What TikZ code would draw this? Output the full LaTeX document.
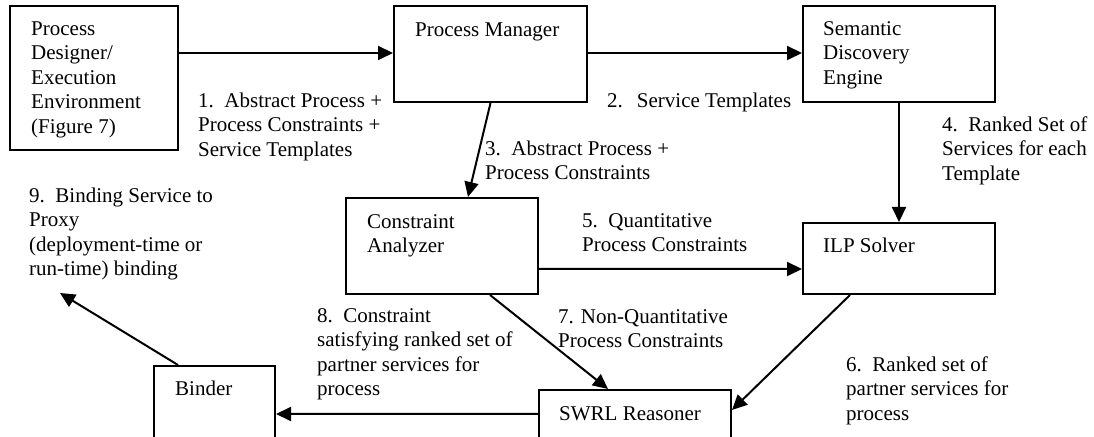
\documentclass[tikz,border=0pt]{standalone}
\usepackage{fontspec}
\setmainfont{Liberation Serif}
\usetikzlibrary{arrows.meta}
\begin{document}
\begin{tikzpicture}[x=1bp,y=-1bp,
  box/.style={draw,line width=2bp,inner sep=0pt,anchor=north west},
  conn/.style={line width=2bp,-{Triangle[length=15bp,width=14bp]}},
  lbl/.style={anchor=north west,inner sep=0pt,align=left,yshift=17.15bp,font=\fontsize{21bp}{24.5bp}\selectfont}]
\useasboundingbox (0,0) rectangle (1094,437);
\clip (0,0) rectangle (1094,437);
% boxes
\node[box,minimum width=168bp,minimum height=144bp] (pd) at (9,5) {};
\node[box,minimum width=193bp,minimum height=96bp] (pm) at (393,5) {};
\node[box,minimum width=192bp,minimum height=96bp] (sde) at (802,5) {};
\node[box,minimum width=192bp,minimum height=96bp] (ca) at (345,197) {};
\node[box,minimum width=192bp,minimum height=71bp] (ilp) at (802,222) {};
\node[box,minimum width=121bp,minimum height=95bp] (bnd) at (153,365) {};
\node[box,minimum width=192bp,minimum height=71bp] (swrl) at (538,389) {};
% box texts
\node[lbl] (pdt) at (31,35) {\strut Process\\Designer/\\Execution\\Environment\\(Figure 7)};
\node[lbl] (pmt) at (415,36) {\strut Process Manager};
\node[lbl] (sdet) at (823,35) {\strut Semantic\\Discovery\\Engine};
\node[lbl] (cat) at (367,228) {\strut Constraint\\Analyzer};
\node[lbl] (ilpt) at (823,252) {\strut ILP Solver};
\node[lbl] (bndt) at (175,395) {\strut Binder};
\node[lbl] (swrlt) at (559,420) {\strut SWRL Reasoner};
% labels
\node[lbl] (l1) at (198,107) {\strut 1.\ \ Abstract Process +\\Process Constraints +\\Service Templates};
\node[lbl] (l2) at (607,107) {\strut 2.\hspace{14bp}Service Templates};
\node[lbl] (l3) at (485,155) {\strut 3.\ \ Abstract Process +\\Process Constraints};
\node[lbl] (l4) at (942,131) {\strut 4.\ \ Ranked Set of\\Services for each\\Template};
\node[lbl] (l5) at (582,227) {\strut 5.\ \ Quantitative\\Process Constraints};
\node[lbl] (l6) at (846,371) {\strut 6.\ \ Ranked set of\\partner services for\\process};
\node[lbl] (l7) at (558,323) {\strut 7. Non-Quantitative\\Process Constraints};
\node[lbl] (l8) at (317,322) {\strut 8.\ \ Constraint\\satisfying ranked set of\\partner services for\\process};
\node[lbl] (l9) at (29,202) {\strut 9.\ \ Binding Service to\\Proxy\\(deployment-time or\\run-time) binding};
% connectors
\coordinate (p9) at (60,293);
\draw[conn] ([yshift=-48bp]pd.north east) -- ([yshift=-48bp]pm.north west);
\draw[conn] ([yshift=-48bp]pm.north east) -- ([yshift=-48bp]sde.north west);
\draw[conn] (pm.south) -- ([xshift=26bp]ca.north);
\draw[conn] (sde.south) -- (ilp.north);
\draw[conn] ([yshift=-72bp]ca.north east) -- ([yshift=-47bp]ilp.north west);
\draw[conn] ([xshift=48bp]ilp.south west) -- ([yshift=-21bp]swrl.north east);
\draw[conn] ([xshift=145bp]ca.south west) -- ([xshift=70bp]swrl.north west);
\draw[conn] ([yshift=-25bp]swrl.north west) -- ([yshift=-49bp]bnd.north east);
\draw[conn] ([xshift=25bp]bnd.north west) -- (p9);
\end{tikzpicture}
\end{document}
